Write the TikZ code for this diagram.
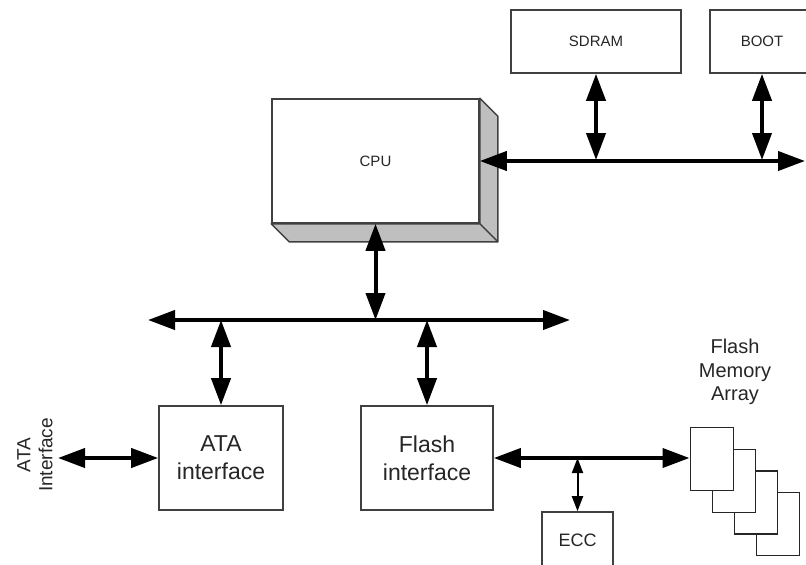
\documentclass[tikz,border=0pt]{standalone}
\usepackage{fontspec}
\setmainfont{Liberation Sans}
\usetikzlibrary{arrows.meta, positioning, calc}

\begin{document}
\begin{tikzpicture}[x=1pt, y=-1pt, % pixel-like units, y grows downwards
		box/.style={rectangle, draw=black!75, line width=1.6pt, fill=white, align=center, inner sep=0pt, text=black!85},
		smallbox/.style={box, font=\fontsize{15}{18}\selectfont},
		bigbox/.style={box, font=\fontsize{23}{28}\selectfont},
		card/.style={rectangle, draw=black!85, line width=1.3pt, fill=white, minimum width=43pt, minimum height=63pt, anchor=north west},
		cpuface/.style={draw=black!75, line width=1.4pt, fill=black!25, line join=round},
		bus/.style={{Triangle[length=27pt,width=19pt]}-{Triangle[length=27pt,width=19pt]}, line width=4pt},
		thinbus/.style={{Triangle[length=15pt,width=11pt]}-{Triangle[length=15pt,width=11pt]}, line width=2pt},
		textlabel/.style={align=center, text=black!85}
		]
		\clip (0,0) rectangle (806,565);
		
		% CPU with its 3D faces
		\node[smallbox, minimum width=207pt, minimum height=124pt] (cpu) at (375.5,161) {CPU};
		\filldraw[cpuface] (cpu.north east) -- ++(18,18) -- ($(cpu.south east)+(18,18)$) -- (cpu.south east) -- cycle;
		\filldraw[cpuface] (cpu.south west) -- ++(18,18) -- ($(cpu.south east)+(18,18)$) -- (cpu.south east) -- cycle;
		
		% memories on the CPU bus
		\node[smallbox, minimum width=170pt, minimum height=63pt] (sdram) at (596,41.5) {SDRAM};
		\node[smallbox, minimum width=104pt, minimum height=63pt] (boot) at (762,41.5) {BOOT};
		
		% interfaces
		\node[bigbox, minimum width=124pt, minimum height=104pt] (ata) at (221,458) {ATA\\interface};
		\node[bigbox, minimum width=132pt, minimum height=104pt] (flashif) at (427,458) {Flash\\interface};
		\node[box, font=\fontsize{18}{21}\selectfont, minimum width=71pt, minimum height=56pt] (ecc) at (577.5,540) {ECC};
		
		% flash memory array (back cards first)
		\foreach \i in {3,2,1,0}
			\node[card] (card\i) at ({689.5+22*\i},{427+21.7*\i}) {};
		\node[textlabel, font=\fontsize{20}{23.5}\selectfont] (arraytext) at (735,372) {Flash\\Memory\\Array};
		\node[textlabel, rotate=90, font=\fontsize{19}{22}\selectfont] (atatext) at (35,455) {ATA\\Interface};
		
		% bus end points
		\coordinate (cpubusend) at (805,160);
		\coordinate (sysleft) at (148,320);
		\coordinate (sysright) at (570,320);
		\coordinate (ataend) at (58,458);
		
		% CPU bus
		\draw[bus] (cpu.east) -- (cpu.east -| cpubusend);
		\draw[bus] (sdram.south) -- (sdram.south |- cpubusend);
		\draw[bus] (boot.south) -- (boot.south |- cpubusend);
		
		% system bus
		\draw[bus] (sysleft) -- (sysright);
		\draw[bus] (cpu.south) -- (cpu.south |- sysleft);
		\draw[bus] (ata.north) -- (ata.north |- sysleft);
		\draw[bus] (flashif.north) -- (flashif.north |- sysleft);
		
		% external links
		\draw[bus] (ata.west) -- (ataend);
		\draw[bus] (flashif.east) -- (flashif.east -| card0.west);
		\draw[thinbus] (ecc.north) -- (ecc.north |- flashif.east);
		
	\end{tikzpicture}
\end{document}
